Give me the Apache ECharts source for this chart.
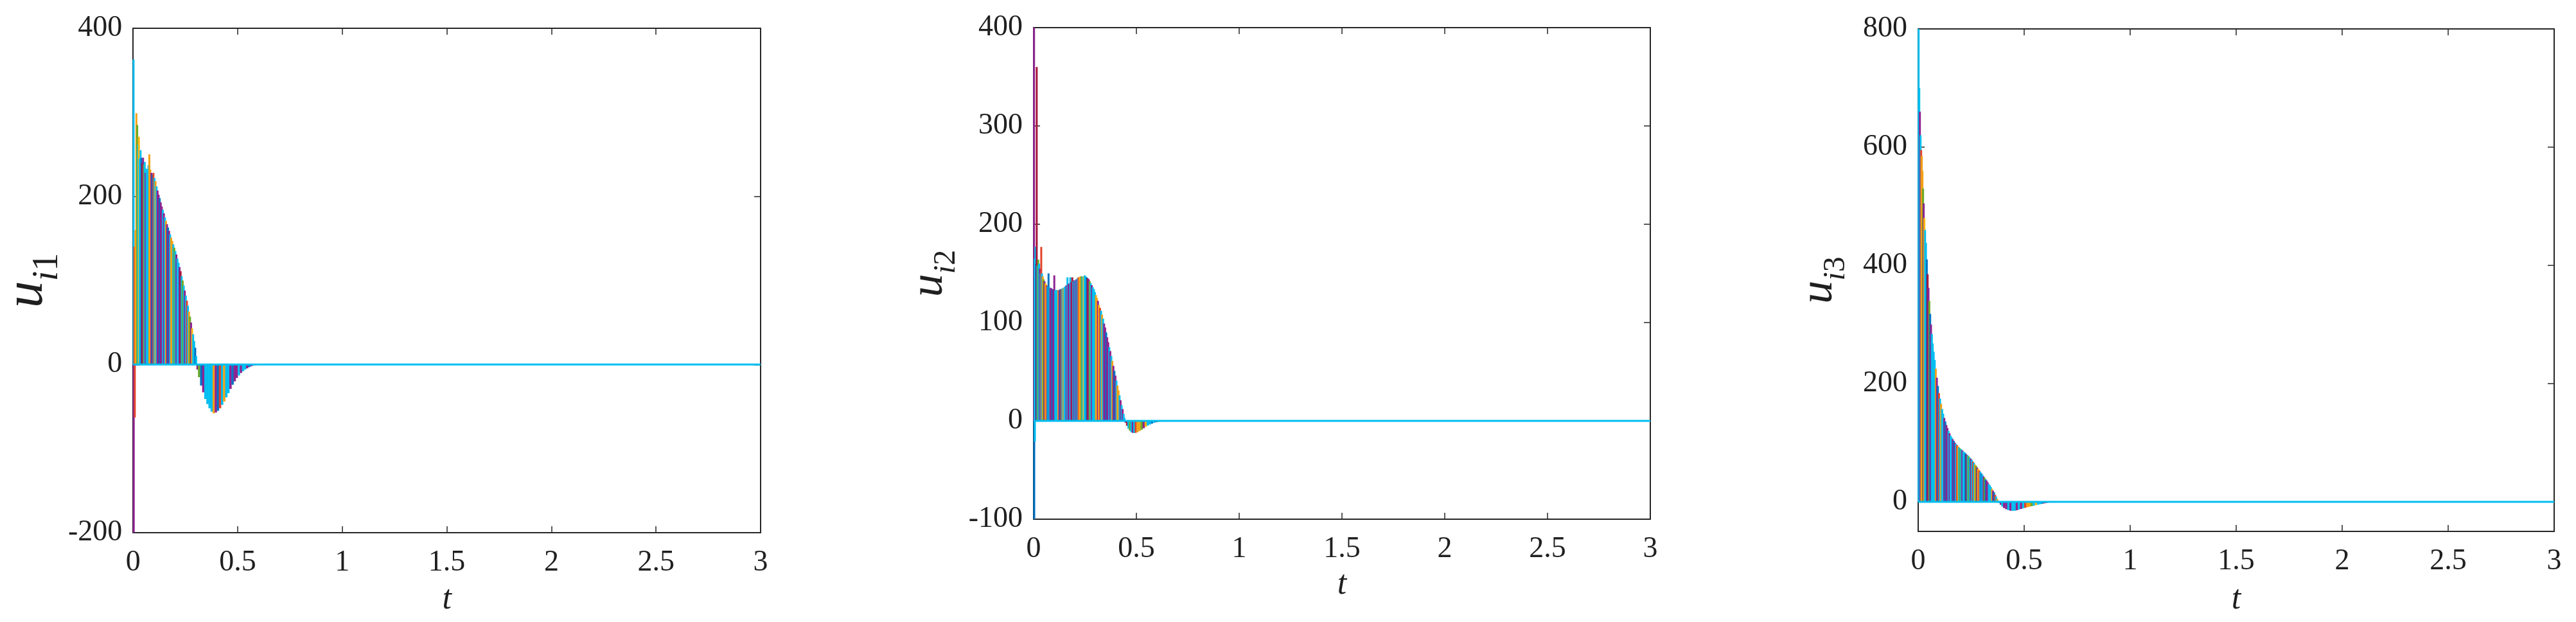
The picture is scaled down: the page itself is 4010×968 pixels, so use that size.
<!DOCTYPE html>
<html><head><meta charset="utf-8">
<script src="https://cdn.jsdelivr.net/npm/echarts@6/dist/echarts.min.js"></script>
<style>html,body{margin:0;padding:0;background:#fff}#c{width:4010px;height:968px}</style>
</head><body><div id="c"></div>
<script>
// ---------- axis ticks ----------
const xTicks = [0, 0.5, 1, 1.5, 2, 2.5, 3];
const yTicks1 = [-200, 0, 200, 400];
const yTicks2 = [-100, 0, 100, 200, 300, 400];
const yTicks3 = [0, 200, 400, 600, 800];
const yNames = [['i', '1'], ['i', '2'], ['i', '3']];

// ---------- u_i1 : stripe edges (t) and heights ----------
const t1 = [0,0.003,0.008,0.013,0.017,0.021,0.025,0.029,0.033,0.037,0.041,0.045,0.049,0.053,0.057,0.061,0.066,0.071,0.075,0.079,
0.084,0.089,0.094,0.099,0.104,0.109,0.114,0.119,0.124,0.129,0.134,0.139,0.144,0.149,0.154,0.159,0.164,0.169,0.174,0.179,
0.184,0.189,0.194,0.199,0.204,0.209,0.214,0.219,0.224,0.229,0.234,0.239,0.244,0.249,0.254,0.259,0.264,0.269,0.274,0.279,
0.284,0.289,0.294,0.299,0.303,0.31,0.32,0.33,0.34,0.35,0.36,0.37,0.38,0.39,0.40,0.41,0.42,0.43,0.44,0.45,0.46,0.47,0.48,
0.49,0.50,0.51,0.52,0.53,0.54,0.55,0.56,0.57,0.58,0.59,0.60];
const u1 = [363,140,160,299,285,262,271,245,255,246,240,246,238,241,228,233,230,237,250,232,
228,226,228,222,218,212,207,202,198,193,188,184,180,175,171,167,163,159,155,151,
147,143,139,135,131,126,121,116,111,105,100,94,88,82,76,70,63,57,50,43,
36,28,20,10,-6,-15,-25,-33,-41,-47,-52,-56,-58,-57,-55,-52,-48,-44,-39,-34,-29,-24,-20,
-16,-13,-10,-8,-6,-4.5,-3,-2,-1.3,-0.8,-0.4];
const spikes1 = [[0, -200], [0.005, -63]];

// ---------- u_i2 ----------
const t2 = [0,0.003,0.006,0.010,0.013,0.016,0.020,0.024,0.028,0.032,0.035,0.038,0.042,0.046,0.050,0.055,0.060,0.065,0.070,0.074,
0.078,0.083,0.088,0.093,0.098,0.102,0.107,0.112,0.117,0.122,0.127,0.132,0.137,0.142,0.147,0.152,0.157,0.162,0.166,0.171,
0.176,0.180,0.185,0.190,0.195,0.200,0.205,0.210,0.215,0.220,0.225,0.230,0.235,0.240,0.245,0.250,0.255,0.260,0.265,0.270,
0.275,0.280,0.285,0.290,0.295,0.300,0.305,0.310,0.315,0.320,0.325,0.330,0.335,0.340,0.345,0.350,0.355,0.360,0.365,0.370,
0.375,0.380,0.385,0.390,0.395,0.400,0.405,0.410,0.415,0.420,0.425,0.430,0.435,0.440,0.443,0.450,0.457,0.464,0.471,0.478,
0.485,0.492,0.500,0.510,0.520,0.530,0.540,0.550,0.560,0.570,0.580,0.590,0.600,0.610,0.620,0.630,0.640];
const u2 = [400,165,177,160,360,158,164,160,155,150,177,150,147,144,142,140,138,137,150,136,
135,135,134,134,148,133,133,133,133,133,134,134,135,135,136,137,138,146,139,140,
146,141,146,142,143,143,144,145,146,146,147,147,147,147,148,147,146,145,144,142,
140,138,136,134,131,128,125,122,118,115,112,108,104,99,95,90,85,80,75,71,
66,61,56,51,46,41,36,31,26,21,16,12,7,3,-2,-5,-8,-10,-11.5,-12.2,
-12.4,-12.2,-11.5,-10.3,-9,-7.5,-6,-4.8,-3.7,-2.8,-2,-1.4,-1,-0.7,-0.4,-0.2];
const spikes2 = [[0, -100], [0.003, -21]];

// ---------- u_i3 ----------
const t3 = [0,0.003,0.006,0.009,0.012,0.015,0.018,0.021,0.024,0.027,0.030,0.034,0.038,0.042,0.046,0.050,0.054,0.058,0.062,0.066,
0.070,0.075,0.080,0.085,0.090,0.095,0.100,0.105,0.110,0.115,0.120,0.125,0.130,0.135,0.140,0.145,0.150,0.155,0.160,0.165,
0.170,0.175,0.180,0.185,0.190,0.195,0.200,0.205,0.210,0.215,0.220,0.225,0.230,0.235,0.240,0.245,0.250,0.255,0.260,0.265,
0.270,0.275,0.280,0.285,0.290,0.295,0.300,0.305,0.310,0.315,0.320,0.325,0.330,0.335,0.340,0.345,0.350,0.355,0.360,0.365,
0.370,0.375,0.378,0.385,0.392,0.400,0.410,0.420,0.430,0.440,0.450,0.460,0.470,0.480,0.490,0.500,0.510,0.520,0.530,0.540,
0.550,0.560,0.570,0.580,0.590,0.600,0.610,0.620,0.630,0.640,0.650];
const u3 = [800,700,660,620,595,585,560,530,505,480,460,438,410,385,362,340,318,300,284,268,
254,240,225,210,196,184,175,166,157,149,142,136,130,125,120,116,112,109,106,103,
100,98,96,94,92,90,89,87,85,84,82,80,79,77,75,73,71,68,66,63,
61,58,56,53,51,48,46,43,41,38,36,33,30,28,25,22,19,16,12,9,
5,2,-2,-5,-8,-10.5,-12.5,-14,-15,-15.2,-15,-14.2,-13,-12,-11,-10,-9,-8.2,-7.3,-6.5,
-5.6,-4.8,-4,-3.2,-2.5,-1.8,-1.2,-0.8,-0.4,-0.2];
const spikes3 = [];

// ---------- style ----------
const FONT = 'Liberation Serif';
const INK = '#1f1f1f';
const AX = '#262626';
const PAL = {c:'#00BEF0', p:'#8E2490', o:'#F2A116', y:'#FFB70F', b:'#0072C4', r:'#E4432B', g:'#6BAA26', d:'#A8163A'};
const PATTERN = 'cpcpbcopcrpcgcpobcydpcpocgrcpbcpocc';
const leadColor = ['c', 'p', 'c'];
function stripeColor(g, i) {
  if (i === 0) return PAL[leadColor[g]];
  const h = ((i * 2654435761) >>> 0) % PATTERN.length;
  return PAL[PATTERN[(h + g * 7) % PATTERN.length]];
}
const spikeColors = [[PAL.p, PAL.r], [PAL.b, PAL.c], []];

const grids = [
  {left: 200, top: 44, width: 984, height: 785},
  {left: 1609, top: 43, width: 960, height: 765},
  {left: 2986, top: 45, width: 990, height: 782}
];
const yRanges = [[-200, 400, 200], [-100, 400, 100], [-50, 800, null]];
const yTickSets = [yTicks1, yTicks2, yTicks3];
const nameGaps = [90, 112, 104];
const nameSizes = [[84, 56], [72, 48], [72, 48]];
const xNameGaps = [78, 76, 80];

const xAxes = [], yAxes = [], series = [];
const stripeT = [t1, t2, t3], stripeU = [u1, u2, u3], spikeSets = [spikes1, spikes2, spikes3];

grids.forEach((g, gi) => {
  const baseLine = {onZero: false, lineStyle: {color: AX, width: 2}};
  const tick = {inside: true, length: 10, lineStyle: {color: AX, width: 1.5}};
  xAxes.push({
    gridIndex: gi, type: 'value', position: 'bottom', min: xTicks[0], max: xTicks[xTicks.length - 1], interval: 0.5,
    axisLine: baseLine, axisTick: tick, splitLine: {show: false},
    axisLabel: {fontFamily: FONT, fontSize: 46, color: INK, margin: 24},
    name: 't', nameLocation: 'middle', nameGap: xNameGaps[gi],
    nameTextStyle: {fontFamily: FONT, fontStyle: 'italic', fontSize: 52, color: INK}
  });
  xAxes.push({
    gridIndex: gi, type: 'value', position: 'top', min: xTicks[0], max: xTicks[xTicks.length - 1], interval: 0.5,
    axisLine: baseLine, axisTick: tick, splitLine: {show: false}, axisLabel: {show: false}
  });
  const [ymin, ymax, yint] = yRanges[gi];
  const [fu, fs] = nameSizes[gi];
  const drop = Math.round(fu * 0.2);
  const yl = {
    gridIndex: gi, type: 'value', position: 'left', min: ymin, max: ymax,
    axisLine: baseLine, axisTick: Object.assign({}, tick), splitLine: {show: false},
    axisLabel: {fontFamily: FONT, fontSize: 46, color: INK, margin: 17},
    name: '{u|u}{i|' + yNames[gi][0] + '}{n|' + yNames[gi][1] + '}',
    nameLocation: 'middle', nameRotate: 90, nameGap: nameGaps[gi],
    nameTextStyle: {
      rich: {
        u: {fontFamily: FONT, fontStyle: 'italic', fontSize: fu, color: INK, lineHeight: fu, verticalAlign: 'bottom', padding: [0, 0, drop, 0]},
        i: {fontFamily: FONT, fontStyle: 'italic', fontSize: fs, color: INK, lineHeight: fs, verticalAlign: 'bottom'},
        n: {fontFamily: FONT, fontSize: fs, color: INK, lineHeight: fs, verticalAlign: 'bottom'}
      }
    }
  };
  const yr = {
    gridIndex: gi, type: 'value', position: 'right', min: ymin, max: ymax,
    axisLine: baseLine, axisTick: Object.assign({}, tick), splitLine: {show: false}, axisLabel: {show: false}
  };
  if (yint) { yl.interval = yint; yr.interval = yint; }
  else {
    yl.axisLabel.customValues = yTickSets[gi];
    yl.axisTick.customValues = yTickSets[gi];
    yr.axisTick.customValues = yTickSets[gi];
  }
  yAxes.push(yl, yr);

  const T = stripeT[gi], U = stripeU[gi];
  series.push({
    type: 'custom', xAxisIndex: gi * 2, yAxisIndex: gi * 2, z: 3, silent: true,
    data: U.map((v, i) => [T[i], T[i + 1], v]),
    renderItem: (params, api) => {
      const a = api.coord([api.value(0), 0]);
      const b = api.coord([api.value(1), api.value(2)]);
      let x = a[0], w = b[0] - a[0];
      if (w < 2.6) { x -= (2.6 - w) / 2; w = 2.6; }
      return {type: 'rect', shape: {x: x, y: Math.min(a[1], b[1]), width: w + 0.4, height: Math.abs(b[1] - a[1])},
        style: {fill: stripeColor(gi, params.dataIndex)}};
    }
  });
  const S = spikeSets[gi];
  if (S.length) series.push({
    type: 'custom', xAxisIndex: gi * 2, yAxisIndex: gi * 2, z: 4, silent: true,
    data: S,
    renderItem: (params, api) => {
      const a = api.coord([api.value(0), 0]);
      const b = api.coord([api.value(0), api.value(1)]);
      return {type: 'line', shape: {x1: a[0] + 1, y1: a[1], x2: b[0] + 1, y2: b[1]},
        style: {stroke: spikeColors[gi][params.dataIndex], lineWidth: 3}};
    }
  });
  series.push({
    type: 'line', xAxisIndex: gi * 2, yAxisIndex: gi * 2, z: 5, silent: true, symbol: 'none',
    data: [[xTicks[0], 0], [xTicks[xTicks.length - 1], 0]],
    lineStyle: {color: PAL.c, width: 3}
  });
});

const chart = echarts.init(document.getElementById('c'), null, {renderer: 'canvas'});
chart.setOption({
  animation: false,
  backgroundColor: '#ffffff',
  grid: grids,
  xAxis: xAxes,
  yAxis: yAxes,
  series: series
});
</script>
</body></html>
